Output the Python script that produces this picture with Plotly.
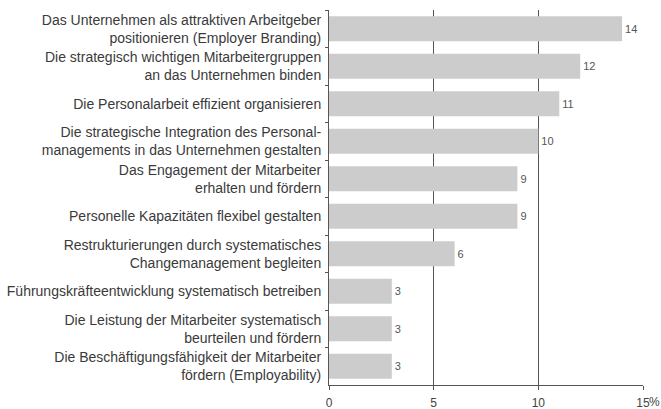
import plotly.graph_objects as go

categories = [
    "Das Unternehmen als attraktiven Arbeitgeber<br>positionieren (Employer Branding)",
    "Die strategisch wichtigen Mitarbeitergruppen<br>an das Unternehmen binden",
    "Die Personalarbeit effizient organisieren",
    "Die strategische Integration des Personal-<br>managements in das Unternehmen gestalten",
    "Das Engagement der Mitarbeiter<br>erhalten und fördern",
    "Personelle Kapazitäten flexibel gestalten",
    "Restrukturierungen durch systematisches<br>Changemanagement begleiten",
    "Führungskräfteentwicklung systematisch betreiben",
    "Die Leistung der Mitarbeiter systematisch<br>beurteilen und fördern",
    "Die Beschäftigungsfähigkeit der Mitarbeiter<br>fördern (Employability)",
]
values = [14, 12, 11, 10, 9, 9, 6, 3, 3, 3]
x_tickvals = [0, 5, 10, 15]
x_ticktext = ["0", "5", "10", "15"]
unit = "%"

FONT = "Liberation Sans, Arial"

fig = go.Figure(go.Bar(
    y=categories, x=values, orientation="h",
    marker=dict(color="#cccccc", line=dict(width=0)),
    text=[str(v) for v in values], textposition="outside",
    textfont=dict(size=11, color="#555555", family=FONT),
    cliponaxis=False,
))

fig.update_layout(
    width=661, height=409,
    margin=dict(l=329, r=18, t=10, b=24),
    paper_bgcolor="white", plot_bgcolor="white",
    font=dict(family=FONT, size=14, color="#3a3a3a"),
    bargap=0.33,
    showlegend=False,
)
fig.update_yaxes(
    autorange="reversed", tickson="boundaries", ticks="outside", ticklen=3,
    tickcolor="#555555", showline=True, linecolor="#555555", linewidth=1,
    showgrid=False, ticklabelstandoff=4, automargin=False,
)
fig.update_xaxes(
    range=[0, 15], tickvals=x_tickvals, ticktext=x_ticktext,
    ticks="outside", ticklen=4, tickcolor="#555555",
    showline=True, linecolor="#555555", linewidth=1,
    showgrid=True, gridcolor="#555555", gridwidth=1,
    tickfont=dict(size=12, color="#444444"), zeroline=False,
    ticklabelstandoff=3, automargin=False,
)
fig.add_annotation(
    x=15, xref="x", y=0, yref="paper", text=unit, showarrow=False,
    xanchor="left", yanchor="top", xshift=4, yshift=-8,
    font=dict(size=12, color="#444444", family=FONT),
)
fig.write_html(
    "out.html",
    config={"displayModeBar": False},
    post_script="document.body.style.margin='0';document.body.style.padding='0';",
)
